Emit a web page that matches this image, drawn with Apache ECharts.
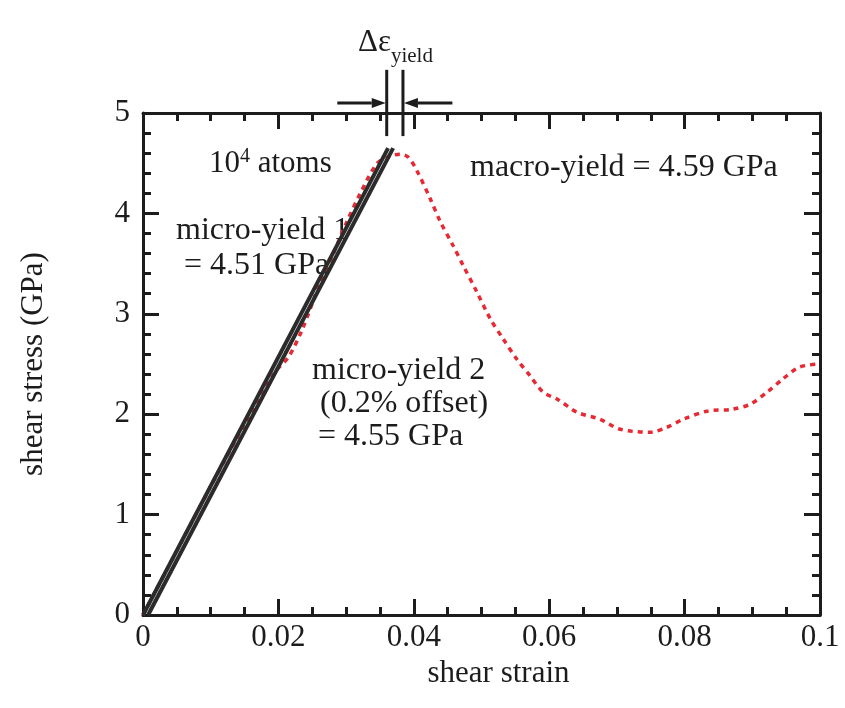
<!DOCTYPE html>
<html>
<head>
<meta charset="utf-8">
<script src="https://cdn.jsdelivr.net/npm/echarts/dist/echarts.min.js"></script>
<style>
  html, body { margin: 0; padding: 0; background: #ffffff; }
  #chart { width: 845px; height: 708px; }
</style>
</head>
<body>
<div id="chart"></div>
<script>
// Shear stress-strain response of a 10^4-atom cell
const strainRange = [0, 0.1];
const strainStep = 0.02;
const stressRange = [0, 5];
const stressStep = 1;

// Simulated response (strain, GPa)
const stressCurve = [
  [0, 0], [0.005, 0.64], [0.01, 1.28], [0.015, 1.90], [0.0195, 2.42],
  [0.0215, 2.57], [0.0235, 2.84], [0.026, 3.28], [0.028, 3.58],
  [0.030, 3.90], [0.0321, 4.20], [0.0346, 4.50], [0.0365, 4.57],
  [0.0380, 4.59], [0.0392, 4.56],
  [0.0405, 4.42], [0.0424, 4.15], [0.0439, 3.92], [0.0458, 3.68],
  [0.0473, 3.48], [0.0493, 3.22], [0.0513, 2.95], [0.0532, 2.75],
  [0.0552, 2.55], [0.0572, 2.38], [0.0591, 2.22], [0.0612, 2.15],
  [0.0641, 2.02], [0.0675, 1.95], [0.0705, 1.85], [0.0749, 1.82],
  [0.0774, 1.87], [0.0798, 1.95], [0.0833, 2.03], [0.0871, 2.05],
  [0.0897, 2.10], [0.0922, 2.22], [0.0945, 2.35], [0.0970, 2.47],
  [0.1, 2.50]
];

// Linear-elastic fits: through the origin, and the offset line
const elasticFit = [[0, 0], [0.0362, 4.65]];
const offsetFit = [[0.00075, 0], [0.03695, 4.65]];

// Yield window markers above the plot
const yieldMarks = [0.0360, 0.0384];
const markerSpan = [4.77, 5.43];
const arrowLevel = 5.10;
const arrowTails = [0.0287, 0.0457];

const SERIF = '"Liberation Serif", "DejaVu Serif", serif';
const INK = '#1c1c1c';
const LABEL_SIZE = 31;
const NOTE_SIZE = 32;

const chart = echarts.init(document.getElementById('chart'));

function strainLabel(v) {
  return v === 0 ? '0' : String(+v.toFixed(3));
}

const baseAxisLine = { show: true, onZero: false, lineStyle: { color: INK, width: 3 } };

function xAxisDef(pos, labels) {
  return {
    type: 'value', position: pos,
    min: strainRange[0], max: strainRange[1], interval: strainStep,
    axisLine: baseAxisLine,
    axisTick: { show: true, inside: true, length: 16, lineStyle: { color: INK, width: 3 } },
    minorTick: { show: true, splitNumber: 4, length: 8, lineStyle: { color: INK, width: 3 } },
    splitLine: { show: false },
    axisLabel: labels ? {
      show: true, formatter: strainLabel, margin: 7,
      fontFamily: SERIF, fontSize: LABEL_SIZE, color: INK
    } : { show: false },
    name: labels ? 'shear strain' : '',
    nameLocation: 'middle', nameGap: 33,
    nameTextStyle: { fontFamily: SERIF, fontSize: LABEL_SIZE, color: INK, padding: [0, 0, 0, 34] }
  };
}

function yAxisDef(pos, labels) {
  return {
    type: 'value', position: pos,
    min: stressRange[0], max: stressRange[1], interval: stressStep,
    axisLine: baseAxisLine,
    axisTick: { show: true, inside: true, length: 16, lineStyle: { color: INK, width: 3 } },
    minorTick: { show: true, splitNumber: 5, length: 8, lineStyle: { color: INK, width: 3 } },
    splitLine: { show: false },
    axisLabel: labels ? {
      show: true, margin: 13,
      fontFamily: SERIF, fontSize: LABEL_SIZE, color: INK
    } : { show: false },
    name: labels ? 'shear stress (GPa)' : '',
    nameLocation: 'middle', nameGap: 94, nameRotate: 90,
    nameTextStyle: { fontFamily: SERIF, fontSize: LABEL_SIZE, color: INK }
  };
}

// Converging arrows marking the yield strain window
function renderYieldWindow(params, api) {
  const children = [];
  yieldMarks.forEach(function (s) {
    const p0 = api.coord([s, markerSpan[0]]);
    const p1 = api.coord([s, markerSpan[1]]);
    children.push({
      type: 'line',
      shape: { x1: p0[0], y1: p0[1], x2: p1[0], y2: p1[1] },
      style: { stroke: INK, lineWidth: 3 }
    });
  });
  const heads = [[arrowTails[0], yieldMarks[0]], [arrowTails[1], yieldMarks[1]]];
  heads.forEach(function (h) {
    const tail = api.coord([h[0], arrowLevel]);
    const tip = api.coord([h[1], arrowLevel]);
    const dir = tip[0] > tail[0] ? 1 : -1;
    const headLen = 15, half = 5;
    const base = tip[0] - dir * headLen;
    children.push({
      type: 'line',
      shape: { x1: tail[0], y1: tail[1], x2: base, y2: tip[1] },
      style: { stroke: INK, lineWidth: 3 }
    });
    children.push({
      type: 'polygon',
      shape: { points: [[tip[0] - dir * 1, tip[1]], [base, tip[1] - half], [base, tip[1] + half]] },
      style: { fill: INK }
    });
  });
  return { type: 'group', children: children };
}

function note(x, y, text) {
  return {
    type: 'text', x: x, y: y, z: 1,
    style: { text: text, font: NOTE_SIZE + 'px ' + SERIF, fill: INK, verticalAlign: 'middle' }
  };
}

const option = {
  backgroundColor: '#ffffff',
  animation: false,
  grid: { left: 143, right: 25, top: 113, bottom: 93, containLabel: false },
  xAxis: [xAxisDef('bottom', true), xAxisDef('top', false)],
  yAxis: [yAxisDef('left', true), yAxisDef('right', false)],
  series: [
    {
      type: 'line', name: 'response', data: stressCurve,
      smooth: 0.3, showSymbol: false, z: 3,
      lineStyle: { color: '#e52a33', width: 3.5, type: [5, 5] }
    },
    {
      type: 'line', name: 'elastic', data: elasticFit,
      showSymbol: false, z: 4,
      lineStyle: { color: '#2b2b2b', width: 4 }
    },
    {
      type: 'line', name: 'offset', data: offsetFit,
      showSymbol: false, z: 4,
      lineStyle: { color: '#2b2b2b', width: 4 }
    },
    {
      type: 'custom', name: 'yield window', renderItem: renderYieldWindow,
      data: [[yieldMarks[0], arrowLevel]], clip: false, silent: true, z: 5
    }
  ],
  graphic: [
    {
      type: 'text', x: 358, y: 47, z: 1,
      style: {
        text: '{d|Δε}{s|yield}', verticalAlign: 'middle',
        rich: {
          d: { fontFamily: SERIF, fontSize: 31, fill: INK, padding: [0, 0, 8, 0], verticalAlign: 'bottom' },
          s: { fontFamily: SERIF, fontSize: 21, fill: INK, verticalAlign: 'bottom' }
        }
      }
    },
    {
      type: 'text', x: 209, y: 163, z: 1,
      style: {
        text: '{n|10}{s|4}{n| atoms}', verticalAlign: 'middle',
        rich: {
          n: { fontFamily: SERIF, fontSize: 31, fill: INK, verticalAlign: 'bottom' },
          s: { fontFamily: SERIF, fontSize: 20, fill: INK, padding: [0, 0, 13, 0], verticalAlign: 'bottom' }
        }
      }
    },
    note(470, 168, 'macro-yield = 4.59 GPa'),
    note(176, 231, 'micro-yield 1'),
    note(184, 266, '= 4.51 GPa'),
    note(312, 371, 'micro-yield 2'),
    note(320, 404, '(0.2% offset)'),
    note(318, 437, '= 4.55 GPa')
  ]
};

chart.setOption(option);
</script>
</body>
</html>
